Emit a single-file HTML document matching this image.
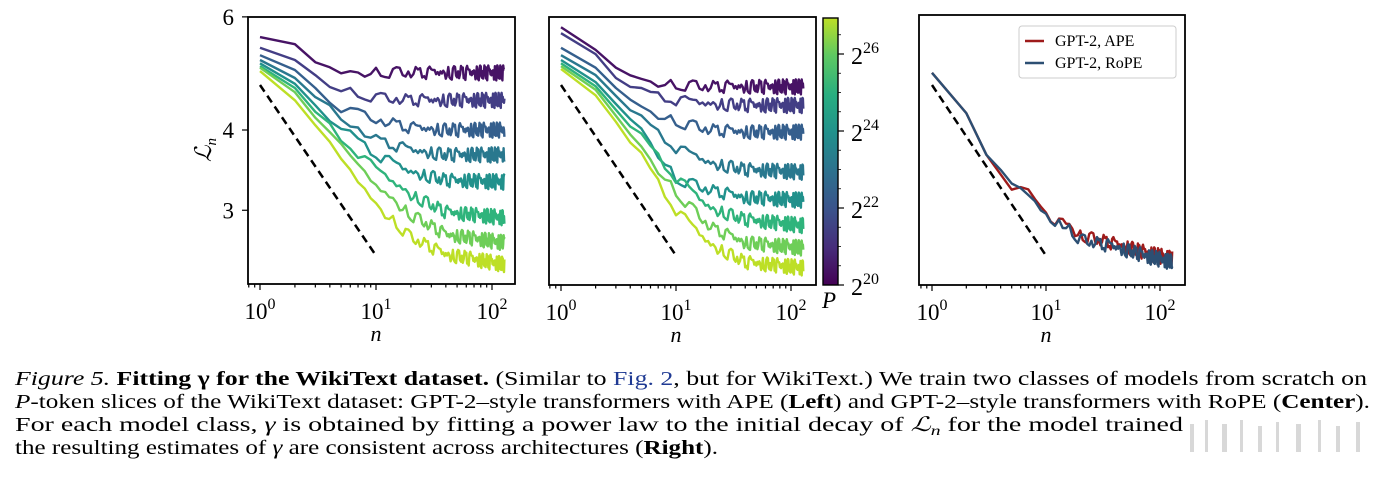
<!DOCTYPE html>
<html><head><meta charset="utf-8">
<style>
body{margin:0;background:#fff;}
svg{display:block;font-family:"Liberation Serif","Times New Roman",serif;}
</style></head>
<body>
<svg id="fig" width="1385" height="484" viewBox="0 0 1385 484">
<defs>
<linearGradient id="vir" x1="0" y1="1" x2="0" y2="0">
<stop offset="0" stop-color="#440154"/><stop offset="0.14" stop-color="#472d7b"/>
<stop offset="0.28" stop-color="#3b528b"/><stop offset="0.43" stop-color="#2c728e"/>
<stop offset="0.57" stop-color="#21918c"/><stop offset="0.71" stop-color="#28ae80"/>
<stop offset="0.86" stop-color="#5ec962"/><stop offset="1" stop-color="#bddf26"/>
</linearGradient>
</defs>
<g id="panels"></g>
<g font-size="20">
<text x="15" y="385" textLength="1352" lengthAdjust="spacingAndGlyphs"><tspan font-style="italic">Figure 5.</tspan> <tspan font-weight="bold">Fitting γ for the WikiText dataset.</tspan> (Similar to <tspan fill="#1f3a93">Fig. 2</tspan>, but for WikiText.) We train two classes of models from scratch on</text>
<text x="15" y="408" textLength="1355" lengthAdjust="spacingAndGlyphs"><tspan font-style="italic">P</tspan>-token slices of the WikiText dataset: GPT-2–style transformers with APE (<tspan font-weight="bold">Left</tspan>) and GPT-2–style transformers with RoPE (<tspan font-weight="bold">Center</tspan>).</text>
<text x="15" y="431" textLength="1168" lengthAdjust="spacingAndGlyphs">For each model class, <tspan font-style="italic">γ</tspan> is obtained by fitting a power law to the initial decay of <tspan font-style="italic">ℒ</tspan><tspan font-style="italic" font-size="14" dy="4">n</tspan><tspan dy="-4"> for the model trained</tspan></text>
<text x="15" y="454" textLength="703" lengthAdjust="spacingAndGlyphs">the resulting estimates of <tspan font-style="italic">γ</tspan> are consistent across architectures (<tspan font-weight="bold">Right</tspan>).</text>
<g fill="#d8d8d8">
<rect x="1190" y="424" width="4" height="28"/><rect x="1205" y="420" width="3" height="32"/><rect x="1222" y="424" width="5" height="28"/><rect x="1240" y="420" width="3" height="32"/><rect x="1258" y="426" width="4" height="26"/><rect x="1276" y="422" width="3" height="30"/><rect x="1296" y="424" width="5" height="28"/><rect x="1318" y="420" width="3" height="32"/><rect x="1336" y="426" width="4" height="26"/><rect x="1356" y="422" width="4" height="30"/>
</g>
</g>
</svg>
<script>
// ---- data ----
const anchorN = [1, 2, 3, 5, 10, 20, 40, 128];
const leftSeries = [
 [5.58, 5.44, 5.10, 4.91, 4.92, 4.91, 4.91, 4.91],
 [5.37, 5.14, 4.87, 4.62, 4.49, 4.45, 4.45, 4.45],
 [5.23, 4.96, 4.65, 4.33, 4.15, 4.03, 4.00, 4.00],
 [5.14, 4.82, 4.50, 4.18, 3.86, 3.72, 3.66, 3.66],
 [5.08, 4.72, 4.37, 4.03, 3.66, 3.44, 3.34, 3.32],
 [5.03, 4.65, 4.27, 3.89, 3.47, 3.17, 2.98, 2.92],
 [5.00, 4.58, 4.18, 3.75, 3.28, 2.95, 2.75, 2.67],
 [4.94, 4.45, 4.07, 3.62, 3.06, 2.72, 2.56, 2.47]
];
const centerSeries = [
 [5.78, 5.33, 5.00, 4.78, 4.70, 4.67, 4.67, 4.67],
 [5.66, 5.25, 4.82, 4.58, 4.45, 4.39, 4.37, 4.37],
 [5.37, 5.00, 4.65, 4.33, 4.12, 4.00, 3.97, 3.97],
 [5.23, 4.87, 4.52, 4.15, 3.75, 3.55, 3.47, 3.44],
 [5.14, 4.75, 4.39, 4.00, 3.36, 3.22, 3.14, 3.11],
 [5.08, 4.68, 4.30, 3.89, 3.37, 3.02, 2.90, 2.84],
 [5.03, 4.62, 4.21, 3.75, 3.20, 2.82, 2.67, 2.62],
 [4.98, 4.53, 4.12, 3.63, 3.00, 2.65, 2.49, 2.44]
];
const rightN = [1, 2, 3, 5, 7, 10, 12, 13, 20, 40, 80, 128];
const ropeSeries = [4.91, 4.25, 3.66, 3.28, 3.18, 2.95, 2.82, 2.90, 2.70, 2.63, 2.54, 2.49];
const apeSeries  = [4.91, 4.25, 3.66, 3.28, 3.18, 2.95, 2.84, 2.93, 2.74, 2.66, 2.57, 2.52];
const jitter = [0.4,-0.6,0.9,-0.2,-0.8,0.5,0.1,-0.9,0.7,-0.3,0.6,-0.7,0.2,0.9,-0.5,-0.1,0.8,-0.9,0.3,-0.4,0.6,0.0,-0.6,0.9,-0.8,0.2,0.5,-0.3,-0.7,0.4,0.8,-0.2];
const dashN = [1, 10];
const dashL = [4.70, 2.55];
const yTicks = [6, 4, 3];
const xTickExp = [0, 1, 2];
const colors = ["#471365","#433e85","#355f8d","#29788e","#21918c","#2fb47c","#6ece58","#bddf26"];
const cbTicks = [20, 22, 24, 26];

const NS = "http://www.w3.org/2000/svg";
const root = document.getElementById('panels');
function mk(tag, attrs, parent){const e=document.createElementNS(NS,tag);for(const k in attrs)e.setAttribute(k,attrs[k]);(parent||root).appendChild(e);return e;}

function interp(ns, ls, n){
  const x=Math.log(n);
  for(let i=0;i<ns.length-1;i++){
    if(n<=ns[i+1]){const a=Math.log(ns[i]),b=Math.log(ns[i+1]);const t=(x-a)/(b-a);
      return Math.exp(Math.log(ls[i])*(1-t)+Math.log(ls[i+1])*t);}
  }
  return ls[ls.length-1];
}

function panel(cfg){
  const g=mk('g',{});
  
  
  const sx=n=>cfg.x0+cfg.dec*Math.log10(n);
  const sy=L=>cfg.y4-279*Math.log(L/4);
  cfg.series.forEach((s,si)=>{
    let pts=[];
    for(let n=1;n<=128;n++){
      let L=interp(s.ns,s.ls,n);
      if(n>3){const amp=0.01+0.02*Math.min(1,Math.log10(n)/2);L*=1+amp*jitter[(n*3+si*5+s.off)%jitter.length];}
      pts.push(sx(n).toFixed(1)+','+sy(L).toFixed(1));
    }
    const p=mk('polyline',{points:pts.join(' '),fill:'none',stroke:s.color,'stroke-width':2.4,'stroke-linejoin':'round'},g);
    
    
  });
  const d=mk('line',{x1:sx(dashN[0]),y1:sy(dashL[0]),x2:sx(dashN[1]),y2:sy(dashL[1]),stroke:'#000','stroke-width':2.5,'stroke-dasharray':'8,5'},g);
  
  
  const fr=mk('rect',{x:cfg.bx,y:cfg.by,width:cfg.bw,height:cfg.bh,fill:'none',stroke:'#000','stroke-width':1.8},g);
  
  
  const yb=cfg.by+cfg.bh;
  for(let e=-1;e<=2;e++){for(let m=1;m<10;m++){const n=m*Math.pow(10,e);const x=sx(n);
    if(x<cfg.bx||x>cfg.bx+cfg.bw)continue;
    mk('line',{x1:x,y1:yb,x2:x,y2:yb+(m===1?6:3.5),stroke:'#000','stroke-width':1.2},g);}}
  xTickExp.forEach(e=>{
    const t=mk('text',{x:sx(Math.pow(10,e)),y:cfg.by+cfg.bh+35,'font-size':23,'text-anchor':'middle'},g);
    
    
    t.innerHTML='10<tspan font-size="16" dy="-10">'+e+'</tspan>';
  });
  const xl=mk('text',{x:(sx(1)+sx(100))/2,y:cfg.by+cfg.bh+57,'font-size':22,'font-style':'italic','text-anchor':'middle'},g);
  
  
  xl.textContent='n';
  if(cfg.yLabels){
    yTicks.forEach(v=>{
      mk('line',{x1:cfg.bx-6,y1:sy(v),x2:cfg.bx,y2:sy(v),stroke:'#000','stroke-width':1.2},g);
      const t=mk('text',{x:cfg.bx-14,y:sy(v)+8,'font-size':23,'text-anchor':'end'},g);
      
      
      t.textContent=v;
    });
    const yl=mk('text',{x:0,y:0,'font-size':23,'font-style':'italic',transform:'translate(211,150) rotate(-90)','text-anchor':'middle'},g);
    
    
    yl.innerHTML='ℒ<tspan font-size="15" dy="5">n</tspan>';
  }
}

panel({name:'left-panel-ape',x0:260,dec:116,y4:130,bx:248,by:17,bw:267,bh:267,yLabels:true,
  series:leftSeries.map((ls,i)=>({ns:anchorN,ls,color:colors[i],name:'series-p'+i,off:i*7}))});
panel({name:'center-panel-rope',x0:561,dec:115,y4:130,bx:549,by:17,bw:267,bh:268,yLabels:false,
  series:centerSeries.map((ls,i)=>({ns:anchorN,ls,color:colors[i],name:'series-p'+i,off:i*11+3}))});
panel({name:'right-panel-compare',x0:932,dec:114,y4:130,bx:919,by:15,bw:266,bh:270,yLabels:false,
  series:[{ns:rightN,ls:apeSeries,color:'#9e1b1b',name:'series-gpt2-ape',off:2},
          {ns:rightN,ls:ropeSeries,color:'#2c4f73',name:'series-gpt2-rope',off:9}]});

const cb=mk('g',{});


mk('rect',{x:823,y:18,width:15,height:267,fill:'url(#vir)',stroke:'#000','stroke-width':1.4},cb);
const cbY=p=>285-(p-20)*38.5;
cbTicks.forEach(p=>{
  mk('line',{x1:838,y1:cbY(p),x2:844,y2:cbY(p),stroke:'#000','stroke-width':1.2},cb);
  const t=mk('text',{x:851,y:cbY(p)+10,'font-size':24},cb);
  
  
  t.innerHTML='2<tspan font-size="16" dy="-11">'+p+'</tspan>';
});
for(let p=20;p<27;p+=0.5){if(p%2===0)continue;mk('line',{x1:838,y1:cbY(p),x2:841,y2:cbY(p),stroke:'#000','stroke-width':0.8},cb);}
const pl=mk('text',{x:822,y:308,'font-size':23,'font-style':'italic'},cb);


pl.textContent='P';

const lg=mk('g',{});


mk('rect',{x:1019,y:26,width:157,height:52,rx:3,fill:'#fff',stroke:'#ccc','stroke-width':1},lg);
[['GPT-2, APE','#9e1b1b',41],['GPT-2, RoPE','#2c4f73',63]].forEach(([lab,c,y])=>{
  const e=mk('g',{},lg);
  
  
  mk('line',{x1:1025,y1:y,x2:1044,y2:y,stroke:c,'stroke-width':2.4},e);
  const t=mk('text',{x:1055,y:y+5,'font-size':16},e);
  t.textContent=lab;
});
</script>
</body></html>
